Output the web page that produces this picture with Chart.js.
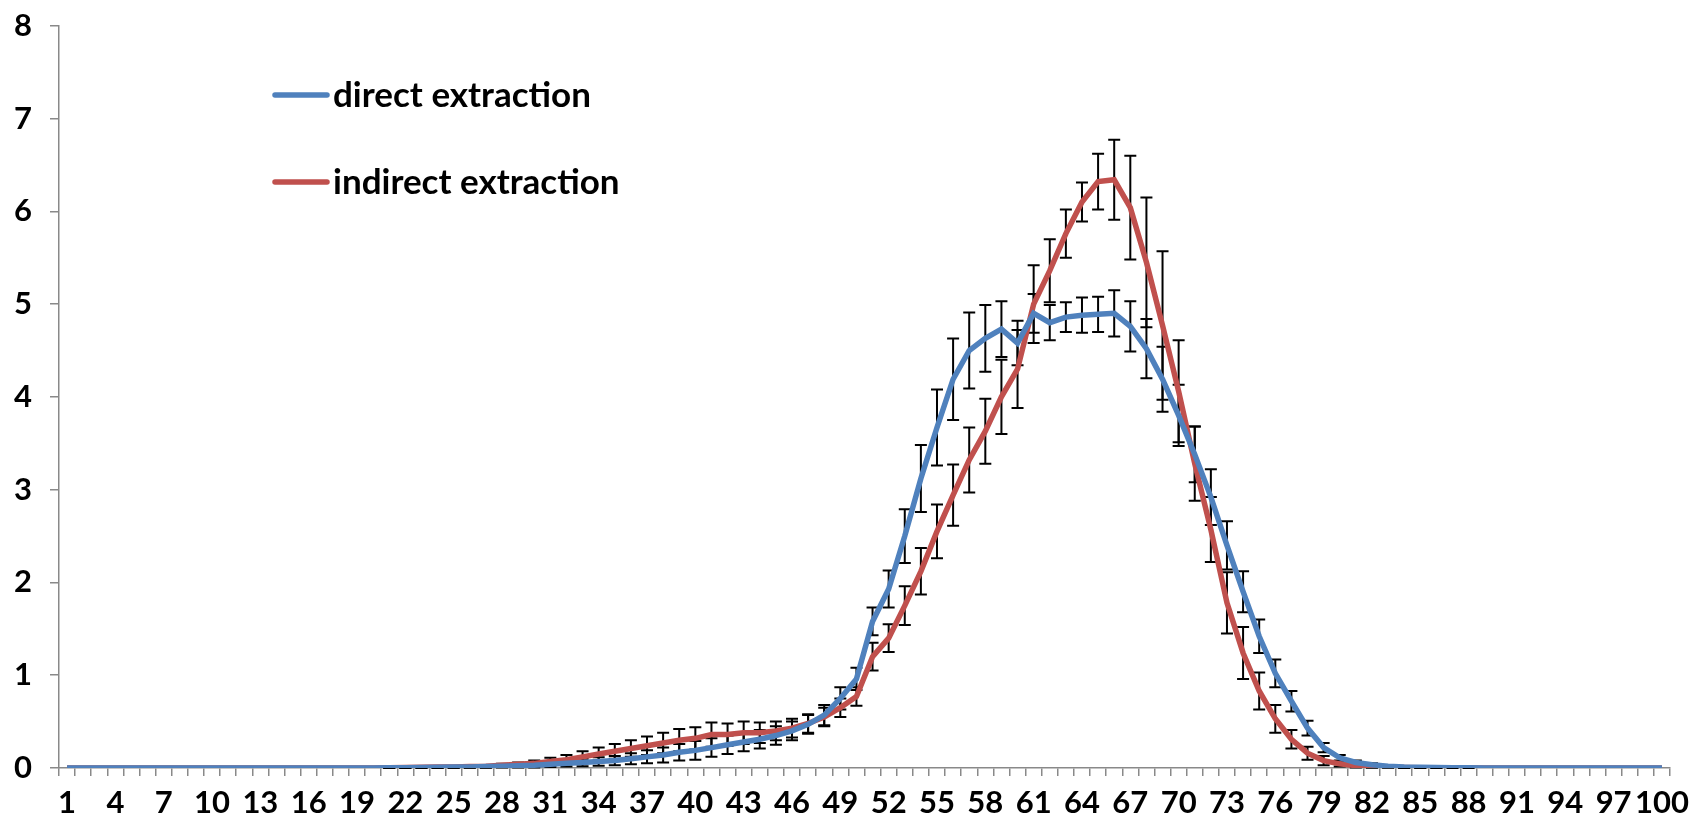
<!DOCTYPE html>
<html lang="en">
<head>
    <meta charset="UTF-8">
    <title>direct vs indirect extraction</title>
    <script src="https://cdn.jsdelivr.net/npm/chart.js"></script>
    <style>
        body { margin: 0; background: #fff; }
        #wrap { width: 1697px; height: 820px; }
    </style>
</head>
<body>
<div id="wrap"><canvas id="myChart"></canvas></div>

<script>
    // kategorier 1..100
    const categories = [];
    for (let i = 1; i <= 100; i++) categories.push(String(i));

    // direct extraction (blå)
    const directValues = [
        0,0,0,0,0,0,0,0,0,0, 0,0,0,0,0,0,0,0,0,0,
        0.002,0.003,0.005,0.007,0.01,0.012,0.015,0.02,0.025,0.03,
        0.04,0.05,0.06,0.07,0.08,0.1,0.12,0.14,0.17,0.19,
        0.22,0.25,0.28,0.31,0.35,0.4,0.47,0.57,0.75,0.96,
        1.58,1.93,2.5,3.12,3.67,4.19,4.5,4.63,4.73,4.58,
        4.9,4.8,4.86,4.88,4.89,4.9,4.76,4.52,4.19,3.8,
        3.38,2.92,2.4,1.9,1.42,1.02,0.72,0.43,0.22,0.11,
        0.06,0.035,0.02,0.012,0.008,0.005,0.003,0.002,0,0,
        0,0,0,0,0,0,0,0,0,0
    ];
    const directErr = [
        0,0,0,0,0,0,0,0,0,0, 0,0,0,0,0,0,0,0,0,0,
        0.003,0.004,0.005,0.006,0.008,0.01,0.012,0.015,0.02,0.025,
        0.03,0.035,0.04,0.045,0.05,0.06,0.07,0.08,0.09,0.1,
        0.1,0.1,0.1,0.1,0.1,0.1,0.1,0.11,0.12,0.12,
        0.15,0.2,0.29,0.36,0.41,0.44,0.41,0.36,0.3,0.24,
        0.21,0.19,0.16,0.19,0.19,0.25,0.27,0.32,0.35,0.33,
        0.3,0.3,0.26,0.22,0.18,0.15,0.11,0.08,0.05,0.03,
        0.02,0.015,0.01,0.008,0.005,0.003,0.002,0.001,0,0,
        0,0,0,0,0,0,0,0,0,0
    ];

    // indirect extraction (rød)
    const indirectValues = [
        0,0,0,0,0,0,0,0,0,0, 0,0,0,0,0,0,0,0,0,0,
        0.003,0.005,0.007,0.01,0.012,0.016,0.02,0.03,0.04,0.05,
        0.07,0.09,0.12,0.15,0.18,0.21,0.24,0.27,0.3,0.32,
        0.36,0.36,0.38,0.38,0.4,0.43,0.48,0.55,0.65,0.77,
        1.2,1.4,1.75,2.12,2.55,2.94,3.32,3.63,4.0,4.3,
        5.0,5.36,5.76,6.1,6.32,6.34,6.04,5.45,4.77,4.06,
        3.28,2.57,1.78,1.24,0.83,0.53,0.31,0.16,0.08,0.045,
        0.025,0.015,0.01,0.006,0.004,0.002,0,0,0,0,
        0,0,0,0,0,0,0,0,0,0
    ];
    const indirectErr = [
        0,0,0,0,0,0,0,0,0,0, 0,0,0,0,0,0,0,0,0,0,
        0.003,0.004,0.005,0.006,0.008,0.01,0.012,0.015,0.02,0.03,
        0.04,0.05,0.06,0.07,0.08,0.09,0.1,0.11,0.12,0.12,
        0.13,0.12,0.12,0.11,0.1,0.1,0.1,0.1,0.1,0.1,
        0.15,0.15,0.21,0.25,0.29,0.33,0.35,0.35,0.4,0.42,
        0.42,0.34,0.26,0.21,0.3,0.43,0.56,0.7,0.8,0.55,
        0.4,0.35,0.33,0.28,0.2,0.15,0.1,0.07,0.05,0.03,
        0.02,0.012,0.008,0.005,0.003,0.002,0,0,0,0,
        0,0,0,0,0,0,0,0,0,0
    ];

    const yTicks = [0, 1, 2, 3, 4, 5, 6, 7, 8];

    const blue = '#4F81BD';
    const red = '#C0504D';
    const axisGrey = '#898989';
    const tickFont = { family: 'Lato', weight: 'bold', size: 31 };

    // fejlstreger tegnes under linjerne
    const errorBars = {
        id: 'errorBars',
        beforeDatasetsDraw(chart) {
            const ctx = chart.ctx;
            const xs = chart.scales.x, ys = chart.scales.y;
            ctx.save();
            ctx.strokeStyle = '#000';
            ctx.lineWidth = 2;
            chart.data.datasets.forEach(ds => {
                ds.data.forEach((v, i) => {
                    const e = ds.err[i];
                    if (!e) return;
                    const x = xs.getPixelForValue(i);
                    const top = ys.getPixelForValue(v + e);
                    const bot = ys.getPixelForValue(Math.max(0, v - e));
                    ctx.beginPath();
                    ctx.moveTo(x, top); ctx.lineTo(x, bot);
                    ctx.moveTo(x - 6, top); ctx.lineTo(x + 6, top);
                    ctx.moveTo(x - 6, bot); ctx.lineTo(x + 6, bot);
                    ctx.stroke();
                });
            });
            ctx.restore();
        }
    };

    // forklaring inde i plotområdet
    const insideLegend = {
        id: 'insideLegend',
        afterDraw(chart) {
            const ctx = chart.ctx;
            ctx.save();
            ctx.font = 'bold 35px Lato';
            ctx.textBaseline = 'middle';
            ctx.lineCap = 'round';
            ctx.lineWidth = 5.5;
            chart.data.datasets.forEach((ds, k) => {
                const y = 95 + k * 87;
                ctx.strokeStyle = ds.borderColor;
                ctx.beginPath();
                ctx.moveTo(275, y); ctx.lineTo(327, y);
                ctx.stroke();
                ctx.fillStyle = '#000';
                ctx.fillText(ds.label, 333, y + 1);
            });
            ctx.restore();
        }
    };

    const ctx = document.getElementById('myChart').getContext('2d');
    new Chart(ctx, {
        type: 'line',
        data: {
            labels: categories,
            datasets: [
                { label: 'direct extraction', data: directValues, err: directErr,
                  borderColor: blue, borderWidth: 5.5, pointRadius: 0, tension: 0 },
                { label: 'indirect extraction', data: indirectValues, err: indirectErr,
                  borderColor: red, borderWidth: 5.5, pointRadius: 0, tension: 0 }
            ]
        },
        options: {
            responsive: true,
            maintainAspectRatio: false,
            animation: false,
            layout: { padding: { top: 24, right: 18, left: 0, bottom: 0 } },
            plugins: { legend: { display: false }, tooltip: { enabled: false } },
            scales: {
                x: {
                    offset: true,
                    grid: { offset: true, drawOnChartArea: false, tickLength: 8, color: axisGrey, lineWidth: 1.5 },
                    border: { color: axisGrey, width: 1.5 },
                    ticks: {
                        autoSkip: false, maxRotation: 0, color: '#000', font: tickFont, padding: 8,
                        callback: (v, i) => (i % 3 === 0 ? categories[i] : '')
                    },
                    afterFit: s => { s.height = 52; }
                },
                y: {
                    min: yTicks[0],
                    max: yTicks[yTicks.length - 1],
                    grid: { drawOnChartArea: false, tickLength: 9, color: axisGrey, lineWidth: 1.5 },
                    border: { color: axisGrey, width: 1.5 },
                    ticks: { stepSize: 1, color: '#000', font: { ...tickFont, lineHeight: 0.5 }, padding: 18 },
                    afterFit: s => { s.width = 59; }
                }
            }
        },
        plugins: [errorBars, insideLegend]
    });
</script>
</body>
</html>
